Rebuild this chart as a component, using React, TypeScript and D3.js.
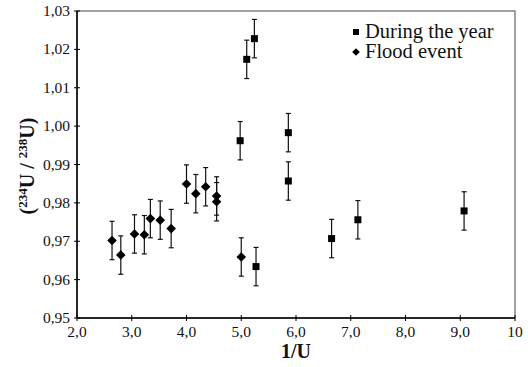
import * as d3 from 'd3';

// 1/U values and activity ratios
const yearX = [4.98, 5.1, 5.24, 5.27, 5.86, 5.86, 6.65, 7.13, 9.07];
const yearY = [0.9962, 1.0174, 1.0228, 0.9634, 0.9983, 0.9857, 0.9707, 0.9756, 0.9779];
const floodX = [2.64, 2.8, 3.05, 3.23, 3.34, 3.52, 3.72, 4.0, 4.17, 4.35, 4.55, 4.55, 5.0];
const floodY = [0.9702, 0.9664, 0.9719, 0.9717, 0.9759, 0.9755, 0.9733, 0.9849, 0.9824, 0.9842, 0.9818, 0.9803, 0.9659];
const errBar = 0.005;

const xTicks = [2, 3, 4, 5, 6, 7, 8, 9, 10];
const xTickLabels = ['2,0', '3,0', '4,0', '5,0', '6,0', '7,0', '8,0', '9,0', '10'];
const yTicks = [0.95, 0.96, 0.97, 0.98, 0.99, 1.0, 1.01, 1.02, 1.03];
const yTickLabels = ['0,95', '0,96', '0,97', '0,98', '0,99', '1,00', '1,01', '1,02', '1,03'];
const legendLabels = ['During the year', 'Flood event'];

const W = 528;
const H = 367;
const margin = { top: 11, right: 13, bottom: 49, left: 77 };

export default function App() {
  const x = d3.scaleLinear().domain([2, 10]).range([margin.left, W - margin.right]);
  const y = d3.scaleLinear().domain([0.95, 1.03]).range([H - margin.bottom, margin.top]);
  const font = 'Liberation Serif';

  const errorBar = (cx: number, cy: number, key: string) => (
    <g key={key} stroke="#111" strokeWidth={1.2}>
      <line x1={x(cx)} x2={x(cx)} y1={y(cy - errBar)} y2={y(cy + errBar)} />
      <line x1={x(cx) - 2.5} x2={x(cx) + 2.5} y1={y(cy - errBar)} y2={y(cy - errBar)} />
      <line x1={x(cx) - 2.5} x2={x(cx) + 2.5} y1={y(cy + errBar)} y2={y(cy + errBar)} />
    </g>
  );

  const diamond = (px: number, py: number, r: number) =>
    `M${px},${py - r}L${px + r},${py}L${px},${py + r}L${px - r},${py}Z`;

  return (
    <svg width={W} height={H} style={{ position: 'absolute', left: 0, top: 0, background: '#fff', fontFamily: font }}>
      {/* frame */}
      <rect
        x={margin.left}
        y={margin.top}
        width={W - margin.left - margin.right}
        height={H - margin.bottom - margin.top}
        fill="none"
        stroke="#444"
        strokeWidth={1}
      />
      <line x1={margin.left} x2={margin.left} y1={margin.top} y2={H - margin.bottom} stroke="#000" strokeWidth={1.5} />
      <line x1={margin.left} x2={W - margin.right} y1={H - margin.bottom} y2={H - margin.bottom} stroke="#000" strokeWidth={1.5} />

      {/* y axis ticks */}
      {yTicks.map((t, i) => (
        <g key={'y' + i}>
          <line x1={margin.left - 3} x2={margin.left + 3} y1={y(t)} y2={y(t)} stroke="#000" strokeWidth={1} />
          <text x={margin.left - 7} y={y(t) + 5} textAnchor="end" fontSize={15.5} fill="#111" style={{ fontFamily: font }}>
            {yTickLabels[i]}
          </text>
        </g>
      ))}

      {/* x axis ticks */}
      {xTicks.map((t, i) => (
        <g key={'x' + i}>
          <line x1={x(t)} x2={x(t)} y1={H - margin.bottom - 3} y2={H - margin.bottom + 3} stroke="#000" strokeWidth={1} />
          <text x={x(t)} y={H - margin.bottom + 19} textAnchor="middle" fontSize={15.5} fill="#111" style={{ fontFamily: font }}>
            {xTickLabels[i]}
          </text>
        </g>
      ))}

      {/* axis titles */}
      <text x={296} y={358} textAnchor="middle" fontSize={20} fontWeight="bold" fill="#111" style={{ fontFamily: font }}>
        1/U
      </text>
      <text
        transform="translate(34,166) rotate(-90)"
        textAnchor="middle"
        fontSize={20}
        fontWeight="bold"
        fill="#111"
        style={{ fontFamily: font }}
      >
        (<tspan fontSize={13} dy={-7}>234</tspan>
        <tspan dy={7}>U / </tspan>
        <tspan fontSize={13} dy={-7}>238</tspan>
        <tspan dy={7}>U)</tspan>
      </text>

      {/* error bars */}
      {yearX.map((v, i) => errorBar(v, yearY[i], 'ey' + i))}
      {floodX.map((v, i) => errorBar(v, floodY[i], 'ef' + i))}

      {/* markers */}
      {yearX.map((v, i) => (
        <rect key={'s' + i} x={x(v) - 3.5} y={y(yearY[i]) - 3.5} width={7} height={7} fill="#000" />
      ))}
      {floodX.map((v, i) => (
        <path key={'d' + i} d={diamond(x(v), y(floodY[i]), 4.8)} fill="#000" />
      ))}

      {/* legend */}
      <rect x={353} y={29} width={6} height={6} fill="#000" />
      <text x={365} y={38} fontSize={20.5} fill="#111" style={{ fontFamily: font }}>
        {legendLabels[0]}
      </text>
      <path d={diamond(356, 52, 3.8)} fill="#000" />
      <text x={365} y={58} fontSize={20.5} fill="#111" style={{ fontFamily: font }}>
        {legendLabels[1]}
      </text>
    </svg>
  );
}
